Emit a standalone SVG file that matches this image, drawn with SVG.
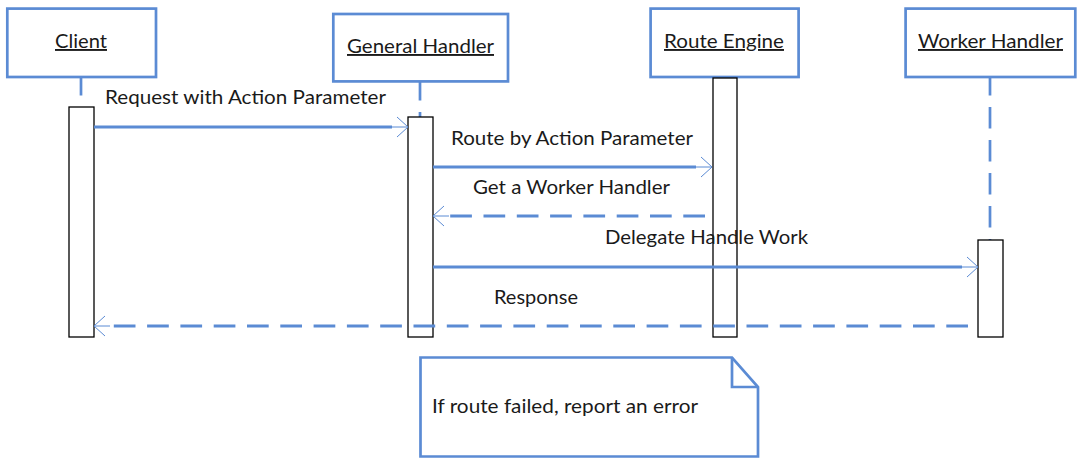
<svg xmlns="http://www.w3.org/2000/svg" width="1091" height="466" viewBox="0 0 1091 466">
<style>
text{font-family:Lato,"Liberation Sans",sans-serif;font-size:19px;fill:#1a1a1a}
.hdr{fill:#fff;stroke:#5b8bd4;stroke-width:2.7}
.life{stroke:#5b8bd4;stroke-width:2.7;stroke-dasharray:21.5 11.5;fill:none}
.act{fill:#fff;stroke:#000;stroke-width:1.3}
.msg{stroke:#5b8bd4;stroke-width:2.8;fill:none}
.dash{stroke-dasharray:21.7 11.6}
.u{text-decoration:underline}
</style>
<defs>
<marker id="ah" markerUnits="userSpaceOnUse" orient="auto" markerWidth="20" markerHeight="24" refX="0" refY="0" viewBox="-1 -12 20 24" overflow="visible">
<path d="M0,0 H16 M5,-10 L16,0 L5,10" fill="none" stroke="#5b8bd4" stroke-width="1"/>
</marker>
</defs>
<g id="lifelines">
<line class="life" x1="81" y1="74" x2="81" y2="107"/>
<line class="life" x1="420" y1="79" x2="420" y2="117"/>
<line class="life" x1="990" y1="74" x2="990" y2="240"/>
</g>
<g id="client">
<rect class="hdr" x="7.3" y="8.6" width="148.7" height="68.4"/>
<text class="u" x="55" y="48" textLength="52" lengthAdjust="spacingAndGlyphs">Client</text>
<rect class="act" x="69" y="107" width="25" height="230"/>
</g>
<g id="general-handler">
<rect class="hdr" x="333.3" y="14" width="174.7" height="67.4"/>
<text class="u" x="347" y="53" textLength="147" lengthAdjust="spacingAndGlyphs">General Handler</text>
<rect class="act" x="408" y="117" width="25" height="220"/>
</g>
<g id="route-engine">
<rect class="hdr" x="650.6" y="8.6" width="148" height="68.4"/>
<text class="u" x="664" y="48" textLength="120" lengthAdjust="spacingAndGlyphs">Route Engine</text>
<rect class="act" x="713" y="78" width="24" height="259"/>
</g>
<g id="worker-handler">
<rect class="hdr" x="905.6" y="8.6" width="169.7" height="68.4"/>
<text class="u" x="918" y="48" textLength="145" lengthAdjust="spacingAndGlyphs">Worker Handler</text>
<rect class="act" x="978" y="240" width="25" height="97"/>
</g>
<g id="connectors">
<line class="msg" x1="94" y1="127" x2="392" y2="127" marker-end="url(#ah)"/>
<text x="105" y="104" textLength="281" lengthAdjust="spacingAndGlyphs">Request with Action Parameter</text>
<line class="msg" x1="433" y1="167" x2="696" y2="167" marker-end="url(#ah)"/>
<text x="451" y="145" textLength="242" lengthAdjust="spacingAndGlyphs">Route by Action Parameter</text>
<line class="msg dash" x1="705" y1="216" x2="449" y2="216" marker-end="url(#ah)"/>
<text x="473" y="194" textLength="197" lengthAdjust="spacingAndGlyphs">Get a Worker Handler</text>
<line class="msg" x1="433" y1="267" x2="962" y2="267" marker-end="url(#ah)"/>
<text x="605" y="244" textLength="203" lengthAdjust="spacingAndGlyphs">Delegate Handle Work</text>
<line class="msg dash" x1="968" y1="326" x2="110" y2="326" marker-end="url(#ah)"/>
<text x="494" y="304" textLength="84" lengthAdjust="spacingAndGlyphs">Response</text>
</g>
<g id="note">
<path d="M420.5,357.5 H732 L758,387 V456.5 H420.5 Z" fill="#fff" stroke="#5b8bd4" stroke-width="2.7" stroke-linejoin="miter"/>
<path d="M732,357.5 V387 H758" fill="none" stroke="#5b8bd4" stroke-width="2.7"/>
<text x="432" y="413" textLength="266" lengthAdjust="spacingAndGlyphs">If route failed, report an error</text>
</g>
</svg>
